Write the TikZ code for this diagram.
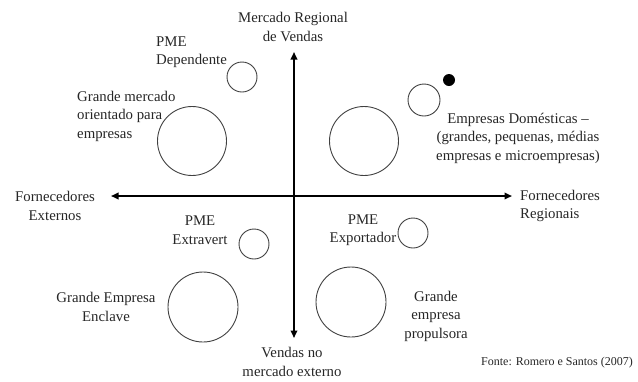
\documentclass[tikz,border=0pt]{standalone}
\usepackage{fontspec}
\setmainfont{Liberation Serif}
\usetikzlibrary{arrows.meta}
\begin{document}
\begin{tikzpicture}[x=1pt,y=-1pt,
  lbl/.style={inner sep=0pt,font=\fontsize{14.8}{18.5}\selectfont,text=black!85},
  ring/.style={circle,draw=black!75,line width=0.9pt,inner sep=0pt},
  axis/.style={line width=1.8pt,{Triangle[length=7.5pt,width=6.5pt]}-{Triangle[length=7.5pt,width=6.5pt]}}]
\useasboundingbox (0,0) rectangle (638,381);
% axes
\coordinate (top) at (294,52);
\coordinate (bot) at (294,338);
\coordinate (lft) at (111,196);
\coordinate (rgt) at (512,196);
\draw[axis] (bot) -- (top);
\draw[axis] (lft) -- (rgt);
% axis labels
\node[lbl,align=center] (ltop) at (293,27) {Mercado Regional\\de Vendas};
\node[lbl,align=center] (lbot) at (292,362) {Vendas no\\mercado externo};
\node[lbl,align=center] (lleft) at (55,206) {Fornecedores\\Externos};
\node[lbl,align=left,anchor=west] (lright) at (520,206) {Fornecedores\\Regionais};
% circles
\node[ring,minimum size=30pt] (c1) at (242,77) {};
\node[ring,minimum size=69pt] (c2) at (192,141) {};
\node[ring,minimum size=69pt] (c3) at (364,141) {};
\node[ring,minimum size=32pt] (c4) at (424,100) {};
\node[circle,fill=black,inner sep=0pt,minimum size=12pt] (dot) at (449,80) {};
\node[ring,minimum size=30pt] (c5) at (254,244) {};
\node[ring,minimum size=70pt] (c6) at (203,307) {};
\node[ring,minimum size=30pt] (c7) at (413,233) {};
\node[ring,minimum size=70pt] (c8) at (351,302) {};
% quadrant labels
\node[lbl,align=left,anchor=west] (t1) at (156,52) {PME\\Dependente};
\node[lbl,align=left,anchor=west] (t2) at (77,116) {Grande mercado\\orientado para\\empresas};
\node[lbl,align=center] (t3) at (518,138) {Empresas Domésticas –\\(grandes, pequenas, médias\\empresas e microempresas)};
\node[lbl,align=center] (t4) at (200,230) {PME\\Extravert};
\node[lbl,align=center] (t5) at (106,307) {Grande Empresa\\Enclave};
\node[lbl,align=center] (t6) at (363,230) {PME\\Exportador};
\node[lbl,align=center] (t7) at (436,316) {Grande\\empresa\\propulsora};
\node[lbl,font=\fontsize{12}{14}\selectfont] (src) at (557,363) {Fonte: Romero e Santos (2007)};
\end{tikzpicture}
\end{document}
